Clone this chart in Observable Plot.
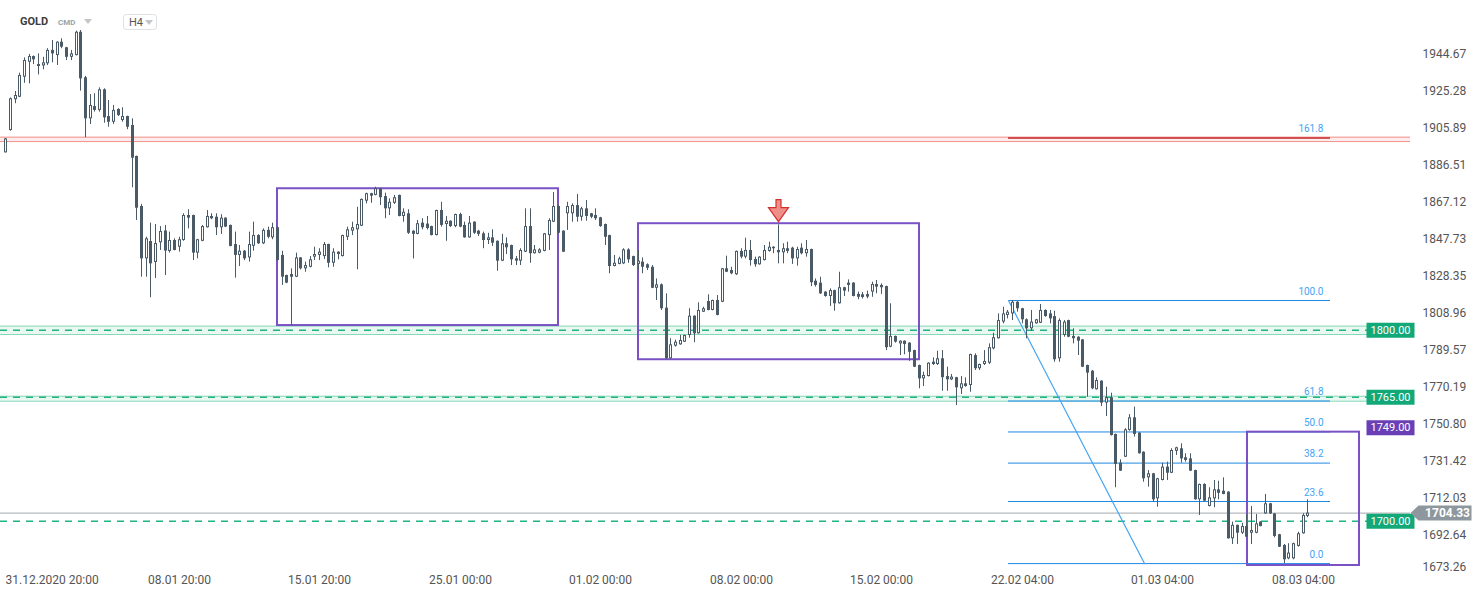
<!DOCTYPE html>
<html>
<head>
<meta charset="utf-8">
<script src="https://cdn.jsdelivr.net/npm/d3@7"></script>
<script src="https://cdn.jsdelivr.net/npm/@observablehq/plot@0.6"></script>
<style>
html,body{margin:0;padding:0;background:#fff;}
#wrap{position:relative;width:1482px;height:598px;font-family:Roboto,"Noto Sans",sans-serif;overflow:hidden;}
#hdr{position:absolute;left:0;top:0;width:300px;height:40px;}
#hdr .sym{position:absolute;left:20px;top:15px;font-size:11px;font-weight:700;color:#3d3d3d;}
#hdr .cmd{position:absolute;left:58px;top:18px;font-size:8px;font-weight:700;color:#9aa3a8;}
#hdr .tri{position:absolute;width:0;height:0;border-left:4px solid transparent;border-right:4px solid transparent;border-top:5px solid #c3c7ca;}
#hdr .tf{position:absolute;left:123px;top:14px;width:34px;height:16px;border:1px solid #dfe2e4;border-radius:3px;box-sizing:border-box;}
#hdr .tf span{position:absolute;left:5px;top:1px;font-size:11px;color:#555;}
</style>
</head>
<body>
<div id="wrap">
  <div id="chart"></div>
  <div id="hdr">
    <div class="sym">GOLD</div>
    <div class="cmd">CMD</div>
    <div class="tri" style="left:84px;top:19px;"></div>
    <div class="tf"><span>H4</span><div class="tri" style="left:21px;top:5px;"></div></div>
  </div>
</div>
<script>
// ---- candle data (H4) ----
const openP = [1892.9,1904.6,1920.7,1922.0,1932.5,1940.3,1943.3,1938.1,1938.4,1939.5,
1946.5,1943.8,1950.8,1947.9,1942.9,1943.8,1956.0,1932.2,1910.7,1917.1,
1915.1,1925.9,1911.9,1908.9,1915.6,1909.8,1911.9,1907.2,1891.0,1864.8,
1837.4,1846.5,1835.5,1845.8,1852.0,1841.3,1847.0,1843.5,1847.0,1860.1,
1860.1,1840.4,1846.6,1853.7,1859.6,1859.2,1853.7,1858.7,1854.9,1844.9,
1839.2,1841.4,1837.9,1844.0,1849.6,1845.3,1852.3,1848.4,1853.7,1839.2,
1828.7,1829.2,1827.8,1837.9,1832.2,1833.0,1838.3,1839.2,1838.6,1844.9,
1835.1,1840.9,1838.6,1848.7,1851.9,1852.6,1854.5,1867.6,1870.2,1870.6,
1874.1,1870.0,1863.6,1866.5,1870.6,1859.6,1861.0,1851.9,1850.2,1856.1,
1855.6,1854.3,1849.6,1862.7,1855.4,1857.1,1854.3,1860.6,1854.9,1848.4,
1856.6,1851.9,1850.5,1847.0,1848.4,1846.6,1836.2,1845.3,1844.4,1837.4,
1836.2,1840.9,1854.3,1840.1,1840.4,1841.3,1849.6,1856.6,1864.8,1851.9,
1861.0,1861.0,1865.3,1859.2,1863.6,1861.0,1860.1,1858.9,1855.4,1849.6,
1833.4,1834.5,1834.8,1842.1,1838.6,1834.5,1835.7,1834.3,
1833.0,1822.0,1823.8,1811.6,1785.1,1791.7,1792.4,1793.8,1797.3,1807.4,
1798.2,1809.5,1815.1,1810.4,1815.6,1814.7,1832.2,1831.3,1829.1,1841.3,
1838.3,1841.8,1837.1,1834.3,1836.5,1841.3,1843.5,1841.8,1840.6,1842.7,
1843.0,1837.4,1843.0,1840.1,
1842.3,1825.7,1824.7,1820.0,1817.7,1820.8,1813.9,1822.3,1823.5,1824.7,
1818.8,1818.6,1818.7,1820.0,1824.0,1823.5,1822.9,1791.2,1796.8,1792.9,
1794.3,1793.3,1789.4,1781.6,1774.6,1775.8,1783.3,1782.1,1785.1,1775.8,
1774.1,1775.2,1769.4,1772.0,1771.1,1786.8,1779.9,1782.1,1782.8,1790.3,
1795.6,1804.3,1807.8,1808.6,1814.7,1811.3,1805.5,1800.8,1803.4,1803.7,
1810.4,1808.6,1807.2,1785.1,1797.3,1805.1,1796.8,1796.4,1795.0,1781.6,
1778.6,1768.9,1773.4,1761.9,1764.7,1745.5,1730.5,1733.6,1747.6,1754.2,
1746.2,1736.2,1722.8,1724.9,1711.8,1721.4,1728.4,1725.2,1736.7,1738.0,
1733.3,1732.7,1726.6,1711.3,1719.3,1707.8,1711.8,1716.5,1715.8,1715.3,
1690.9,1697.9,1693.8,1697.3,1693.8,1693.8,1699.6,1703.9,1709.2,1703.9,
1693.0,1687.4,1680.4,1680.4,1686.9,1693.5,1702.6];

const highP = [1900.4,1921.6,1925.0,1934.6,1942.6,1944.4,1943.6,1944.7,1942.9,1947.4,
1951.7,1951.0,1952.6,1948.1,1946.5,1956.6,1956.9,1932.9,1923.4,1923.8,
1926.9,1926.4,1920.3,1917.7,1916.0,1916.5,1912.1,1910.7,1891.2,1865.9,
1848.7,1856.1,1855.4,1854.3,1854.9,1851.4,1847.9,1848.7,1861.0,1863.1,
1860.3,1847.6,1854.9,1862.7,1861.0,1861.0,1860.5,1858.9,1855.1,1851.4,
1844.4,1841.8,1851.4,1856.6,1850.1,1853.1,1854.0,1856.1,1854.2,1841.4,
1828.9,1832.2,1840.4,1838.1,1835.7,1838.6,1843.5,1842.7,1846.0,1845.1,
1842.7,1841.1,1849.8,1854.0,1856.6,1864.4,1868.8,1871.8,1871.7,1874.9,
1874.3,1871.8,1868.8,1870.6,1870.8,1863.6,1863.1,1852.1,1857.5,1858.4,
1859.6,1854.5,1862.9,1867.0,1859.6,1857.3,1860.8,1861.3,1856.6,1859.6,
1856.8,1852.3,1851.4,1850.8,1852.6,1846.8,1850.2,1848.4,1844.6,1838.6,
1842.7,1863.6,1863.6,1844.4,1842.7,1850.7,1858.4,1872.1,1865.5,1852.1,
1867.0,1866.2,1871.1,1864.4,1867.9,1861.2,1863.6,1859.1,1855.6,1849.8,
1839.2,1838.3,1842.7,1842.7,1838.8,1841.8,1837.9,1834.8,
1833.9,1826.9,1824.3,1819.1,1795.6,1794.9,1797.3,1797.5,1811.3,1807.6,
1814.4,1812.1,1818.6,1815.8,1818.2,1832.4,1838.8,1833.0,1841.5,1842.7,
1848.2,1847.0,1838.3,1838.5,1844.4,1846.1,1843.7,1855.2,1845.3,1846.1,
1843.5,1843.5,1845.3,1847.0,
1842.5,1826.9,1827.8,1820.2,1821.7,1821.0,1830.4,1822.5,1826.4,1824.9,
1820.0,1819.8,1820.5,1825.2,1826.1,1824.3,1823.1,1813.9,1797.0,1794.5,
1794.5,1793.5,1789.6,1781.8,1778.1,1783.0,1785.6,1789.1,1789.4,1780.7,
1776.9,1775.4,1775.8,1775.1,1787.5,1787.7,1782.3,1789.4,1792.9,1798.5,
1808.6,1812.1,1810.4,1815.6,1815.0,1811.5,1806.0,1810.4,1805.7,1813.5,
1810.7,1810.4,1810.0,1806.0,1805.1,1805.3,1800.8,1796.6,1795.2,1781.8,
1779.0,1775.1,1773.6,1770.2,1767.1,1745.7,1732.2,1748.5,1755.9,1759.8,
1746.4,1736.4,1726.6,1725.1,1722.5,1730.5,1731.0,1738.0,1738.8,1740.6,
1735.4,1735.4,1726.8,1719.5,1719.7,1717.6,1721.4,1721.0,1722.8,1715.5,
1699.6,1698.1,1699.0,1703.6,1707.8,1703.6,1699.8,1714.1,1709.4,1704.1,
1693.2,1687.9,1688.3,1688.6,1694.3,1704.0,1711.3];

const lowP = [1892.8,1904.2,1918.6,1921.8,1929.3,1929.0,1939.1,1933.7,1936.4,1938.6,
1940.0,1938.6,1947.4,1941.2,1941.2,1943.6,1925.2,1900.8,1907.7,1914.2,
1914.2,1908.4,1906.3,1907.7,1911.9,1908.9,1905.0,1874.6,1857.5,1827.8,
1827.8,1817.0,1827.1,1841.8,1828.7,1840.4,1841.6,1840.9,1846.6,1853.1,
1836.5,1837.4,1846.4,1853.5,1857.9,1849.6,1850.2,1853.8,1843.7,1827.3,
1833.4,1836.5,1835.7,1841.4,1844.9,1844.9,1847.9,1847.4,1836.3,1823.5,
1824.4,1802.5,1827.6,1831.6,1830.4,1832.7,1836.5,1836.5,1837.1,1832.7,
1833.0,1836.9,1838.4,1847.0,1849.6,1831.7,1854.3,1866.2,1866.5,1870.4,
1865.3,1858.4,1860.1,1865.9,1859.4,1856.6,1850.2,1837.4,1850.0,1852.6,
1852.5,1849.4,1849.4,1854.0,1846.6,1853.8,1853.7,1853.7,1848.2,1848.2,
1850.2,1849.1,1842.7,1844.9,1843.9,1830.9,1836.0,1839.7,1833.9,1833.9,
1833.9,1840.7,1835.1,1839.9,1840.1,1841.1,1841.8,1856.4,1850.3,1840.7,
1852.3,1856.6,1856.6,1857.1,1857.1,1858.4,1857.5,1853.9,1844.4,1829.6,
1833.2,1834.3,1834.5,1835.1,1833.4,1831.3,1829.6,1831.3,
1821.8,1815.6,1810.4,1784.7,1784.9,1791.2,1792.2,1793.6,1795.9,1793.5,
1798.0,1809.3,1810.2,1810.2,1807.6,1814.5,1830.2,1829.1,1828.7,1837.4,
1837.4,1833.6,1833.0,1834.1,1836.3,1840.9,1840.1,1834.8,1834.8,1840.1,
1834.5,1833.6,1839.5,1838.3,
1822.9,1822.6,1818.8,1817.3,1812.5,1810.0,1813.7,1817.7,1820.0,1817.5,
1816.0,1816.4,1816.5,1817.3,1819.1,1818.8,1789.4,1790.9,1793.3,1786.8,
1787.2,1783.8,1780.5,1769.4,1770.6,1775.6,1781.6,1781.6,1768.1,1768.1,
1773.7,1760.6,1766.4,1770.2,1767.6,1779.0,1779.0,1781.6,1782.1,1789.8,
1795.4,1803.4,1806.0,1805.1,1809.5,1803.4,1795.6,1799.5,1803.2,1803.5,
1806.8,1803.4,1783.3,1783.3,1796.4,1796.1,1792.9,1786.8,1780.5,1765.0,
1768.9,1768.7,1760.1,1754.9,1744.7,1717.6,1726.1,1733.4,1747.2,1744.1,
1735.2,1720.5,1717.9,1710.0,1707.4,1721.2,1721.4,1725.0,1734.5,1730.5,
1731.0,1726.1,1711.1,1703.1,1710.4,1707.6,1707.1,1711.3,1713.9,1690.7,
1687.9,1687.9,1693.1,1691.5,1687.9,1693.5,1697.1,1703.7,1703.7,1691.4,
1686.3,1677.9,1679.9,1679.9,1686.5,1693.3,1701.9];

const closeP = [1900.2,1921.2,1922.9,1933.4,1941.2,1943.3,1941.6,1939.1,1940.0,1946.5,
1944.7,1950.8,1948.2,1942.9,1944.7,1956.0,1931.6,1910.7,1917.7,1915.1,
1925.9,1911.2,1908.9,1915.1,1912.4,1911.9,1906.3,1890.1,1863.9,1837.4,
1847.9,1834.8,1845.4,1851.7,1841.5,1847.0,1841.8,1847.4,1860.1,1858.7,
1840.4,1847.4,1854.3,1859.6,1858.4,1853.7,1858.7,1854.0,1843.9,1839.2,
1841.4,1837.4,1844.9,1849.6,1845.3,1852.3,1848.7,1853.7,1836.5,1827.8,
1824.7,1827.8,1837.9,1832.2,1833.9,1836.9,1839.7,1840.9,1844.9,1835.1,
1840.9,1839.7,1849.6,1852.6,1853.7,1855.4,1868.5,1871.5,1871.5,1874.1,
1869.4,1863.6,1867.0,1869.4,1859.6,1861.8,1850.8,1850.2,1855.8,1853.7,
1853.3,1849.6,1862.7,1854.9,1857.1,1854.3,1860.6,1854.0,1848.4,1856.1,
1850.8,1850.2,1847.0,1848.4,1845.6,1836.2,1845.3,1843.2,1836.9,1836.2,
1841.8,1854.3,1840.1,1842.1,1842.1,1850.5,1857.5,1864.8,1850.8,1840.9,
1864.8,1865.3,1859.2,1863.6,1859.6,1859.2,1858.4,1854.3,1848.7,1833.4,
1835.1,1837.4,1842.1,1836.9,1833.9,1836.2,1833.0,1832.5,
1822.0,1823.8,1811.3,1785.1,1792.4,1793.8,1794.7,1797.3,1807.4,1798.2,
1810.4,1811.3,1810.4,1815.6,1807.8,1832.2,1830.4,1829.6,1841.3,1838.3,
1841.8,1836.5,1834.3,1838.3,1841.8,1843.5,1842.7,1840.6,1842.7,1841.3,
1837.4,1842.3,1840.1,1842.3,
1824.9,1823.5,1819.1,1817.7,1820.8,1813.9,1822.3,1820.5,1824.7,1817.7,
1817.3,1817.2,1817.4,1824.0,1822.6,1822.3,1790.9,1796.8,1793.8,1794.3,
1792.6,1788.5,1780.7,1774.6,1776.4,1782.8,1782.1,1785.1,1775.2,1774.1,
1775.5,1769.9,1772.0,1770.6,1787.3,1779.9,1782.1,1783.7,1790.9,1796.1,
1805.1,1808.6,1809.5,1814.7,1811.3,1805.5,1800.8,1804.3,1805.5,1810.4,
1807.2,1806.0,1784.6,1805.1,1804.3,1796.4,1795.6,1794.3,1780.7,1777.6,
1769.4,1773.7,1761.9,1764.7,1744.9,1729.8,1726.3,1747.9,1754.2,1745.5,
1735.4,1722.3,1724.9,1711.3,1722.3,1728.4,1725.2,1737.1,1738.5,1732.7,
1731.9,1726.3,1711.3,1719.3,1710.6,1712.3,1716.5,1714.7,1714.1,1690.9,
1697.9,1693.8,1697.3,1691.7,1695.2,1698.7,1697.3,1709.2,1703.9,1692.1,
1686.5,1679.9,1683.4,1688.3,1693.5,1703.1,1704.33];

// ---- axis ticks ----
const yTicks = [1944.67,1925.28,1905.89,1886.51,1867.12,1847.73,1828.35,1808.96,1789.57,1770.19,1750.80,1731.42,1712.03,1692.64,1673.26];
const xTickIdx = [7,37,67,97,127,157,187,217,247,277];
const xTickText = ["31.12.2020 20:00","08.01 20:00","15.01 20:00","25.01 00:00","01.02 00:00","08.02 00:00","15.02 00:00","22.02 04:00","01.03 04:00","08.03 04:00"];

// ---- drawings ----
const redBand = [1898.8, 1901.1];
const greenBandLo = [1797.8, 1762.9];
const greenBandHi = [1802.2, 1765.5];
const levelVals = [1800, 1765, 1700];
const boxLevel = [1749];
const lastPrice = 1704.33;
const fibVals = [1900.7, 1815.6, 1763.0, 1746.8, 1730.5, 1710.4, 1677.9];
const fibText = ["161.8","100.0","61.8","50.0","38.2","23.6","0.0"];
const fibX = [214.2, 282.9];
const diagX = [214.2, 243.2];
const diagY = [1815.6, 1677.9];
const boxX1 = [57.95, 135.2, 265.2];
const boxX2 = [118.1, 195.2, 289.1];
const boxTop = [1874.1, 1855.8, 1746.7];
const boxBottom = [1802.5, 1784.6, 1676.9];
const arrowIdx = [165];
const arrowPrice = [1862.6];

// ---- build ----
const COL = "#4a5a66";
const candles = openP.map((o, i) => ({
  i, o, c: closeP[i],
  h: Math.max(highP[i], o, closeP[i]),
  l: Math.min(lowP[i], o, closeP[i])
}));
const hollow = candles.filter(d => d.c >= d.o && Math.abs(d.c - d.o) > 1.3);
const bands = greenBandLo.map((lo, k) => ({lo, hi: greenBandHi[k]}));
const boxes = boxX1.map((x1, k) => ({x1, x2: boxX2[k], top: boxTop[k], bottom: boxBottom[k]}));
const fibs = fibVals.map((v, k) => ({v, t: fibText[k]}));
const diag = diagX.map((x, k) => ({x, y: diagY[k]}));

const rectSym = (w, h) => ({draw(ctx) {
  ctx.moveTo(-w/2, -h/2); ctx.lineTo(w/2, -h/2); ctx.lineTo(w/2, h/2); ctx.lineTo(-w/2, h/2); ctx.closePath();
}});
const priceTagSym = {draw(ctx) {
  ctx.moveTo(-34, 0); ctx.lineTo(-26, -7.5); ctx.lineTo(27, -7.5); ctx.lineTo(27, 7.5); ctx.lineTo(-26, 7.5); ctx.closePath();
}};
const arrowSym = {draw(ctx) {
  ctx.moveTo(-2.5, -11); ctx.lineTo(2.5, -11); ctx.lineTo(2.5, -3); ctx.lineTo(10, -3);
  ctx.lineTo(0, 11); ctx.lineTo(-10, -3); ctx.lineTo(-2.5, -3); ctx.closePath();
}};

const fmtX = d => xTickText[xTickIdx.indexOf(d)];

const chart = Plot.plot({
  width: 1482,
  height: 598,
  marginLeft: 0,
  marginRight: 72,
  marginTop: 0,
  marginBottom: 26,
  x: {type: "linear", domain: [-1.13, 299.95], round: true, axis: null},
  y: {type: "linear", domain: [1673.24, 1972.63], axis: null},
  style: {fontFamily: "Roboto, 'Noto Sans', sans-serif", background: "white", color: "#555"},
  marks: [
    // red resistance band
    Plot.rect([redBand], {y1: d => d[0], y2: d => d[1], fill: "#fdecec"}),
    Plot.ruleY(redBand, {stroke: "#f1918c", strokeWidth: 1}),
    // green support bands
    Plot.rect(bands, {y1: "lo", y2: "hi", fill: "#eaf8f2"}),
    Plot.ruleY(bands.flatMap(b => [b.lo, b.hi]), {stroke: "#86d9b8", strokeWidth: 1}),
    Plot.ruleY(levelVals, {stroke: "#1fb482", strokeWidth: 1.5, strokeDasharray: "7,6"}),
    // last price line
    Plot.ruleY([lastPrice], {stroke: "#a3a8ac", strokeWidth: 1}),
    // fibonacci
    Plot.ruleY(fibs, {y: "v", x1: () => fibX[0], x2: () => fibX[1], stroke: d => d.t === "161.8" ? "#c62828" : "#1e88e5", strokeWidth: d => d.t === "161.8" ? 1.6 : 1}),
    Plot.line(diag, {x: "x", y: "y", stroke: "#42a5f5", strokeWidth: 1.2}),
    Plot.text(fibs, {x: () => fibX[1], y: "v", text: "t", dx: -7, dy: -9, textAnchor: "end", fill: "#42a5f5", fontSize: 10}),
    // purple boxes
    Plot.rect(boxes, {x1: "x1", x2: "x2", y1: "bottom", y2: "top", fill: "none", stroke: "#7a52c6", strokeWidth: 2}),
    // candles
    Plot.ruleX(candles, {x: "i", y1: "h", y2: "l", stroke: COL, strokeWidth: 1}),
    Plot.ruleX(candles, {x: "i", y1: d => Math.max(d.o, d.c), y2: d => Math.min(d.o, d.c), stroke: COL, strokeWidth: 3}),
    Plot.ruleX(hollow, {x: "i", y1: "c", y2: "o", stroke: "white", strokeWidth: 1, insetTop: 1, insetBottom: 1}),
    // red arrow
    Plot.dot(arrowIdx, {x: d => d, y: (d, k) => arrowPrice[k], symbol: arrowSym, fill: "#f08f87", stroke: "#d32f2f", strokeWidth: 1.2}),
    // level tags
    Plot.dot(levelVals, {y: d => d, frameAnchor: "right", dx: -20, symbol: rectSym(48, 15), fill: "#12a877", stroke: "none"}),
    Plot.text(levelVals, {y: d => d, frameAnchor: "right", dx: -20, textAnchor: "middle", text: d => d.toFixed(2), fill: "white", fontSize: 11}),
    Plot.dot(boxLevel, {y: d => d, frameAnchor: "right", dx: -20, symbol: rectSym(48, 15), fill: "#6a3fb5", stroke: "none"}),
    Plot.text(boxLevel, {y: d => d, frameAnchor: "right", dx: -20, textAnchor: "middle", text: d => d.toFixed(2), fill: "white", fontSize: 11}),
    // axes
    Plot.axisY(yTicks.slice(0, -1), {anchor: "right", tickSize: 0, tickPadding: 12, tickFormat: d => d.toFixed(2), fontSize: 12}),
    Plot.axisY(yTicks.slice(-1), {anchor: "right", tickSize: 0, tickPadding: 12, tickFormat: d => d.toFixed(2), fontSize: 12, dy: -5}),
    Plot.axisX(xTickIdx.slice(1), {anchor: "bottom", tickSize: 0, tickPadding: 3, tickFormat: fmtX, fontSize: 12}),
    Plot.axisX(xTickIdx.slice(0, 1), {anchor: "bottom", tickSize: 0, tickPadding: 3, tickFormat: fmtX, fontSize: 12, textAnchor: "start", dx: -33}),
    // last price tag
    Plot.dot([lastPrice], {y: d => d, frameAnchor: "right", dx: 34, symbol: priceTagSym, fill: "#8d979d", stroke: "none"}),
    Plot.text([lastPrice], {y: d => d, frameAnchor: "right", dx: 37, textAnchor: "middle", text: d => d.toFixed(2), fill: "white", fontSize: 12, fontWeight: "bold"})
  ]
});
document.getElementById("chart").appendChild(chart);
</script>
</body>
</html>
